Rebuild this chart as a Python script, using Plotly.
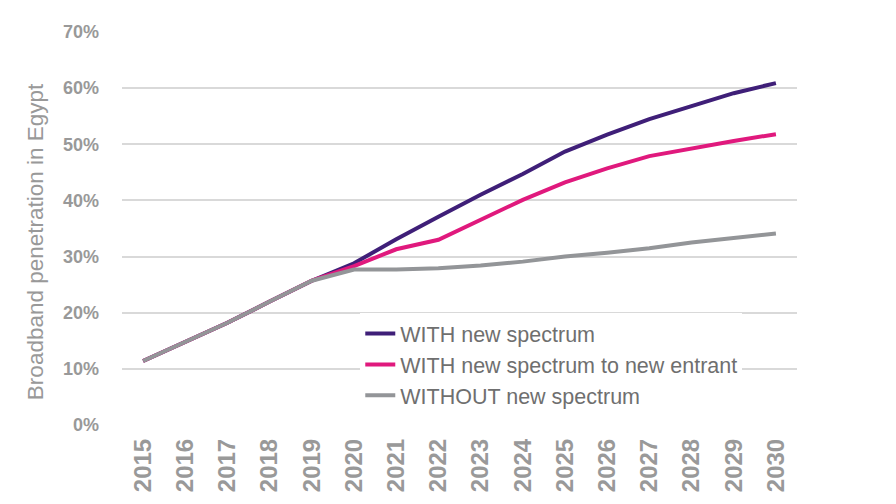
import plotly.graph_objects as go

# Years on the x axis
years = [str(y) for y in range(2015, 2031)]

# Broadband penetration values (fraction)
with_spectrum = [0.114, 0.148, 0.182, 0.220, 0.257, 0.288, 0.331, 0.371, 0.410,
                 0.447, 0.487, 0.517, 0.545, 0.568, 0.591, 0.609]
with_new_entrant = [0.114, 0.148, 0.182, 0.220, 0.257, 0.283, 0.313, 0.330, 0.365,
                    0.401, 0.432, 0.457, 0.479, 0.493, 0.506, 0.518]
without_spectrum = [0.114, 0.148, 0.182, 0.220, 0.257, 0.277, 0.277, 0.279, 0.284,
                    0.291, 0.300, 0.307, 0.315, 0.325, 0.333, 0.341]

series_names = ["WITH new spectrum", "WITH new spectrum to new entrant", "WITHOUT new spectrum"]
colors = ["#3f1f78", "#e0197d", "#939598"]

FONT = "Liberation Sans, Arial, sans-serif"

fig = go.Figure()
for name, vals, col in zip(series_names, [with_spectrum, with_new_entrant, without_spectrum], colors):
    fig.add_trace(go.Scatter(x=years, y=vals, name=name, mode="lines",
                             line=dict(color=col, width=4)))

# page body has an 8px margin, so the plot box is shifted up/left by 8
fig.update_layout(
    width=896, height=504,
    margin=dict(l=114, r=107, t=24, b=87),
    plot_bgcolor="white", paper_bgcolor="white",
    font=dict(family=FONT, color="#999999"),
    showlegend=True,
    legend=dict(x=0.353, y=0.285, xanchor="left", yanchor="top",
                bgcolor="white", itemwidth=30, tracegroupgap=0,
                font=dict(size=21.5, color="#6f6f6f", family=FONT)),
    xaxis=dict(type="category", range=[-0.5, 15.5], showgrid=False, showline=False,
               ticks="", tickangle=-90, ticklabelstandoff=8,
               tickfont=dict(size=24, color="#999999", family=FONT, weight="bold")),
    yaxis=dict(range=[0, 0.7], dtick=0.1, tickformat=".0%", showgrid=True,
               gridcolor="#d9d9d9", gridwidth=1.5, zeroline=False, showline=False,
               ticks="", ticklabelstandoff=22,
               tickfont=dict(size=18, color="#999999", family=FONT, weight="bold")),
)

# y axis title, sitting a little below the plot's middle like the original
fig.add_annotation(text="Broadband penetration in Egypt", textangle=-90,
                   xref="paper", yref="paper", x=-0.127, y=0.466,
                   xanchor="center", yanchor="middle", showarrow=False,
                   font=dict(size=22.5, color="#999999", family=FONT))

fig.write_html("out.html")
